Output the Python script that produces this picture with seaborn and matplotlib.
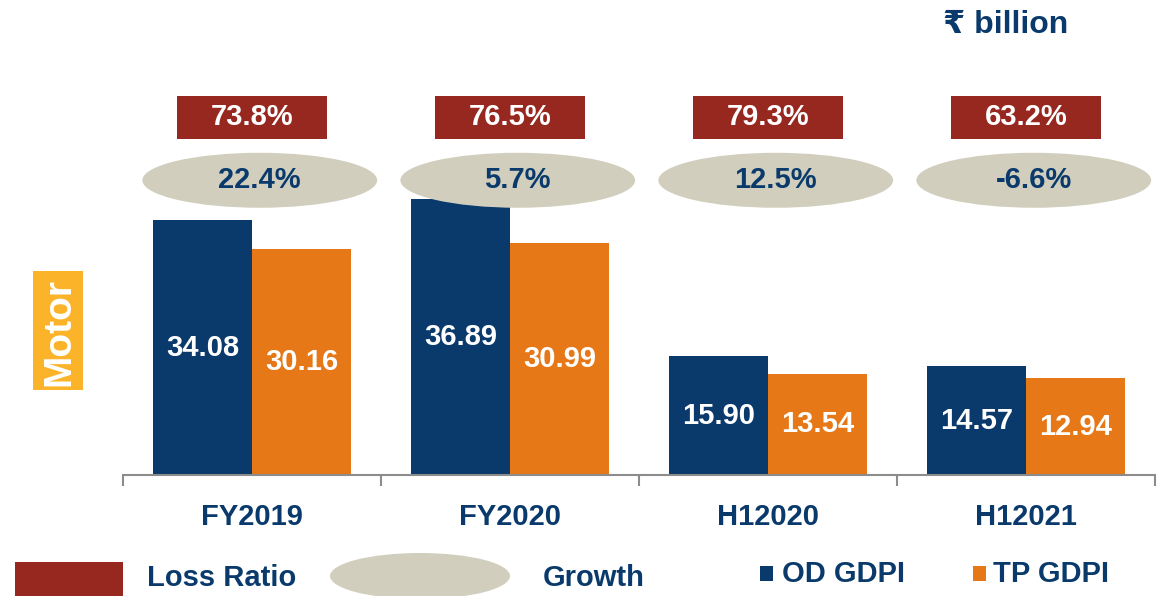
import pandas as pd
import matplotlib
matplotlib.use("Agg")
import matplotlib.pyplot as plt
from matplotlib import font_manager
from matplotlib.patches import Rectangle, Ellipse
import seaborn as sns

# chart data
periods = ["FY2019", "FY2020", "H12020", "H12021"]
od_gdpi = [34.08, 36.89, 15.90, 14.57]
tp_gdpi = [30.16, 30.99, 13.54, 12.94]
loss_ratio = ["73.8%", "76.5%", "79.3%", "63.2%"]
growth = ["22.4%", "5.7%", "12.5%", "-6.6%"]
series_names = ["OD GDPI", "TP GDPI"]

NAVY = "#093a6b"
ORANGE = "#e67817"
RED = "#962820"
BEIGE = "#d1cebd"
YELLOW = "#fbb42a"

df = pd.DataFrame({
    "period": periods * 2,
    "value": od_gdpi + tp_gdpi,
    "series": [series_names[0]] * 4 + [series_names[1]] * 4,
})

sns.set_theme(style="white")
plt.rcParams["font.family"] = ["Liberation Sans", "DejaVu Sans"]
plt.rcParams["font.weight"] = "bold"

installed = {f.name for f in font_manager.fontManager.ttflist}
narrow = ["Liberation Sans Narrow", "Liberation Sans"] if "Liberation Sans Narrow" in installed else ["Liberation Sans"]
legend_size = 24 if "Liberation Sans Narrow" in installed else 21

fig = plt.figure(figsize=(11.66, 5.96), dpi=100)
ax = fig.add_axes([123 / 1166, 121 / 596, 1032 / 1166, 475 / 596])

sns.barplot(data=df, x="period", y="value", hue="series", order=periods,
            hue_order=series_names, palette=[NAVY, ORANGE], width=0.767,
            gap=0, saturation=1, linewidth=0, ax=ax, legend=False)

for cont in ax.containers:
    ax.bar_label(cont, fmt="%.2f", label_type="center", color="white",
                 fontsize=21, fontweight="bold")

ax.set_xlim(-0.5, 3.5)
ax.set_ylim(0, 63.5)
ax.set_xlabel("")
ax.set_ylabel("")
ax.set_yticks([])
for side in ["left", "right", "top"]:
    ax.spines[side].set_visible(False)
ax.spines["bottom"].set_color("#8c8c8c")
ax.spines["bottom"].set_linewidth(1.5)
ax.set_xticks(range(len(periods)))
ax.set_xticklabels(periods, fontsize=21, fontweight="bold", color=NAVY)
ax.tick_params(axis="x", which="major", length=0, pad=20)
ax.set_xticks([i - 0.5 for i in range(len(periods) + 1)], minor=True)
ax.tick_params(axis="x", which="minor", bottom=True, direction="out",
               length=8, width=1.5, color="#8c8c8c")

# loss ratio boxes and growth ellipses above the bars
for i in range(len(periods)):
    ax.add_patch(Rectangle((i - 0.29, 44.9), 0.58, 5.75, facecolor=RED,
                           edgecolor="none", clip_on=False))
    ax.text(i, 47.8, loss_ratio[i], ha="center", va="center", color="white",
            fontsize=21, fontweight="bold")
    ax.add_patch(Ellipse((i + 0.03, 39.4), 0.91, 7.35, facecolor=BEIGE,
                         edgecolor="none", clip_on=False))
    ax.text(i + 0.03, 39.4, growth[i], ha="center", va="center", color=NAVY,
            fontsize=21, fontweight="bold")

# unit label
fig.text(1068 / 1166, 1 - 25 / 596, "\u20b9 billion", ha="right", va="center",
         color=NAVY, fontsize=23, fontweight="bold",
         family=["Liberation Sans", "DejaVu Sans"])

# segment label on the left
fig.patches.append(Rectangle((33 / 1166, 1 - 390 / 596), 50 / 1166, 119 / 596,
                             transform=fig.transFigure, facecolor=YELLOW,
                             edgecolor="none"))
fig.text(59 / 1166, 1 - 332 / 596, "Motor", rotation=90, ha="center",
         va="center", color="white", fontsize=28, fontweight="bold")

# legend row at the bottom
fig.patches.append(Rectangle((15 / 1166, -10 / 596), 108 / 1166, 44 / 596,
                             transform=fig.transFigure, facecolor=RED,
                             edgecolor="none"))
fig.text(147 / 1166, 1 - 578 / 596, "Loss Ratio", ha="left", va="center",
         color=NAVY, fontsize=legend_size, fontweight="bold", family=narrow)
fig.patches.append(Ellipse((420 / 1166, 1 - 576 / 596), 180 / 1166, 46 / 596,
                           transform=fig.transFigure, facecolor=BEIGE,
                           edgecolor="none"))
fig.text(543 / 1166, 1 - 578 / 596, "Growth", ha="left", va="center",
         color=NAVY, fontsize=legend_size, fontweight="bold", family=narrow)
fig.patches.append(Rectangle((760 / 1166, 1 - 581 / 596), 13 / 1166, 15 / 596,
                             transform=fig.transFigure, facecolor=NAVY,
                             edgecolor="none"))
fig.text(782 / 1166, 1 - 574 / 596, "OD GDPI", ha="left", va="center",
         color=NAVY, fontsize=legend_size, fontweight="bold", family=narrow)
fig.patches.append(Rectangle((973 / 1166, 1 - 581 / 596), 13 / 1166, 15 / 596,
                             transform=fig.transFigure, facecolor=ORANGE,
                             edgecolor="none"))
fig.text(993 / 1166, 1 - 574 / 596, "TP GDPI", ha="left", va="center",
         color=NAVY, fontsize=legend_size, fontweight="bold", family=narrow)

fig.savefig("out.png", dpi=100)
